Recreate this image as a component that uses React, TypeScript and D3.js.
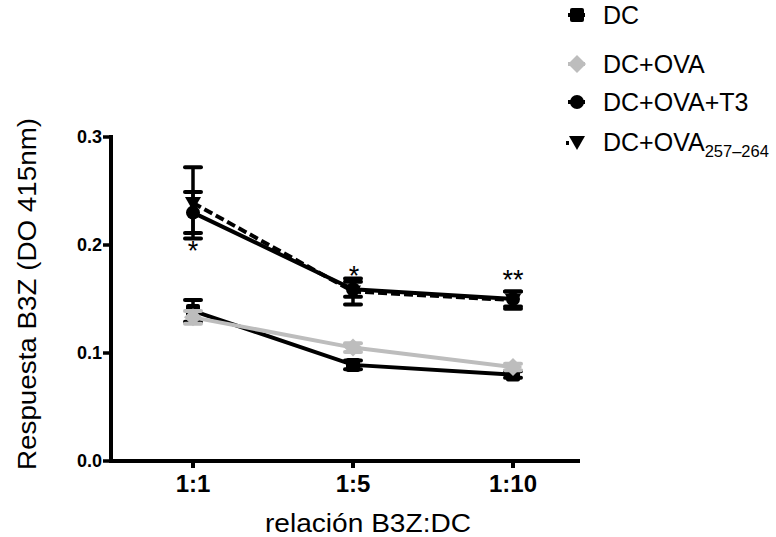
import React from "react";
import * as d3 from "d3";

const categories = ["1:1", "1:5", "1:10"];
const seriesNames = ["DC", "DC+OVA", "DC+OVA+T3", "DC+OVA257-264"];
const dcValues = [0.139, 0.089, 0.080];
const dcErrors = [0.010, 0.004, 0.003];
const dcOvaValues = [0.133, 0.105, 0.087];
const dcOvaErrors = [0.006, 0.004, 0.003];
const t3Values = [0.230, 0.159, 0.150];
const t3Errors = [0.019, 0.007, 0.007];
const pepValues = [0.239, 0.157, 0.149];
const pepErrors = [0.033, 0.012, 0.008];
const yTicks = [0.0, 0.1, 0.2, 0.3];
const stars = ["*", "*", "**"];

const W = 776, H = 537;
const x = d3.scalePoint<string>().domain(categories).range([193, 513]);
const y = d3.scaleLinear().domain([0, 0.3]).range([461, 137]);

type S = { name: string; values: number[]; errors: number[]; color: string; dash?: string; shape: string };
const series: S[] = [
  { name: seriesNames[0], values: dcValues, errors: dcErrors, color: "#000", shape: "square" },
  { name: seriesNames[1], values: dcOvaValues, errors: dcOvaErrors, color: "#bdbdbd", shape: "diamond" },
  { name: seriesNames[3], values: pepValues, errors: pepErrors, color: "#000", dash: "9,4", shape: "triangle" },
  { name: seriesNames[2], values: t3Values, errors: t3Errors, color: "#000", shape: "circle" },
];

function Marker({ shape, cx, cy, color }: { shape: string; cx: number; cy: number; color: string }) {
  if (shape === "square") return <rect x={cx - 7} y={cy - 7} width={14} height={14} rx={2} fill={color} />;
  if (shape === "diamond") return <path d={`M${cx},${cy - 9}L${cx + 9},${cy}L${cx},${cy + 9}L${cx - 9},${cy}Z`} fill={color} />;
  if (shape === "circle") return <circle cx={cx} cy={cy} r={7} fill={color} />;
  return <path d={`M${cx - 8},${cy - 6}L${cx + 8},${cy - 6}L${cx},${cy + 8}Z`} fill={color} />;
}

export default function App() {
  const line = d3.line<number>().x((_, i) => x(categories[i])!).y((v) => y(v));
  const font = "Liberation Sans, Arial, sans-serif";
  const legend = [
    { shape: "square", color: "#000", label: "DC", y: 15 },
    { shape: "diamond", color: "#bdbdbd", label: "DC+OVA", y: 64 },
    { shape: "circle", color: "#000", label: "DC+OVA+T3", y: 102 },
    { shape: "triangle", color: "#000", label: "DC+OVA", sub: "257\u2013264", y: 142 },
  ];
  return (
    <svg width={W} height={H} style={{ position: "absolute", left: 0, top: 0, background: "#fff" }} fontFamily={font}>
      {/* axes */}
      <line x1={111} y1={135} x2={111} y2={463} stroke="#000" strokeWidth={4} />
      <line x1={109} y1={461} x2={580} y2={461} stroke="#000" strokeWidth={4} />
      {yTicks.map((t) => (
        <g key={t}>
          <line x1={103} x2={111} y1={y(t)} y2={y(t)} stroke="#000" strokeWidth={3.5} />
          <text x={102} y={y(t)} dy="0.36em" textAnchor="end" fontSize={18} fontWeight="bold">{t.toFixed(1)}</text>
        </g>
      ))}
      {categories.map((c) => (
        <g key={c}>
          <line x1={x(c)} x2={x(c)} y1={461} y2={468} stroke="#000" strokeWidth={4} />
          <text x={x(c)} y={492} textAnchor="middle" fontSize={24} fontWeight="bold">{c}</text>
        </g>
      ))}
      <text x={368} y={532} textAnchor="middle" fontSize={25} textLength={206} lengthAdjust="spacingAndGlyphs">relación B3Z:DC</text>
      <text transform={`translate(36,294) rotate(-90)`} textAnchor="middle" fontSize={26} textLength={352} lengthAdjust="spacingAndGlyphs">Respuesta B3Z (DO 415nm)</text>
      {/* series */}
      {series.map((s) => (
        <g key={s.name}>
          {s.values.map((v, i) => {
            const cx = x(categories[i])!;
            return (
              <g key={i}>
                <line x1={cx} x2={cx} y1={y(v - s.errors[i])} y2={y(v + s.errors[i])} stroke={s.color} strokeWidth={3.5} />
                <line x1={cx - 8} x2={cx + 8} y1={y(v - s.errors[i])} y2={y(v - s.errors[i])} stroke={s.color} strokeWidth={4} strokeLinecap="round" />
                <line x1={cx - 8} x2={cx + 8} y1={y(v + s.errors[i])} y2={y(v + s.errors[i])} stroke={s.color} strokeWidth={4} strokeLinecap="round" />
              </g>
            );
          })}
          <path d={line(s.values)!} fill="none" stroke={s.color} strokeWidth={4} strokeDasharray={s.dash} />
          {s.values.map((v, i) => (
            <Marker key={i} shape={s.shape} cx={x(categories[i])!} cy={y(v)} color={s.color} />
          ))}
        </g>
      ))}
      {/* significance */}
      <text x={x(categories[0])} y={260} textAnchor="middle" fontSize={27}>{stars[0]}</text>
      <text x={x(categories[1])! + 1} y={285} textAnchor="middle" fontSize={27}>{stars[1]}</text>
      <text x={x(categories[2])} y={289} textAnchor="middle" fontSize={27}>{stars[2]}</text>
      {/* legend */}
      {legend.map((l) => (
        <g key={l.label + l.y}>
          {l.shape === "triangle" ? (
            <rect x={566} y={l.y - 1} width={3} height={4} fill="#000" />
          ) : (
            <line x1={568} x2={585} y1={l.y} y2={l.y} stroke={l.color} strokeWidth={4} />
          )}
          <Marker shape={l.shape} cx={577} cy={l.y} color={l.color} />
          <text x={603} y={l.y} dy="0.36em" fontSize={25}>
            {l.label}
            {l.sub && <tspan dy={6} fontSize={16.5}>{l.sub}</tspan>}
          </text>
        </g>
      ))}
    </svg>
  );
}
